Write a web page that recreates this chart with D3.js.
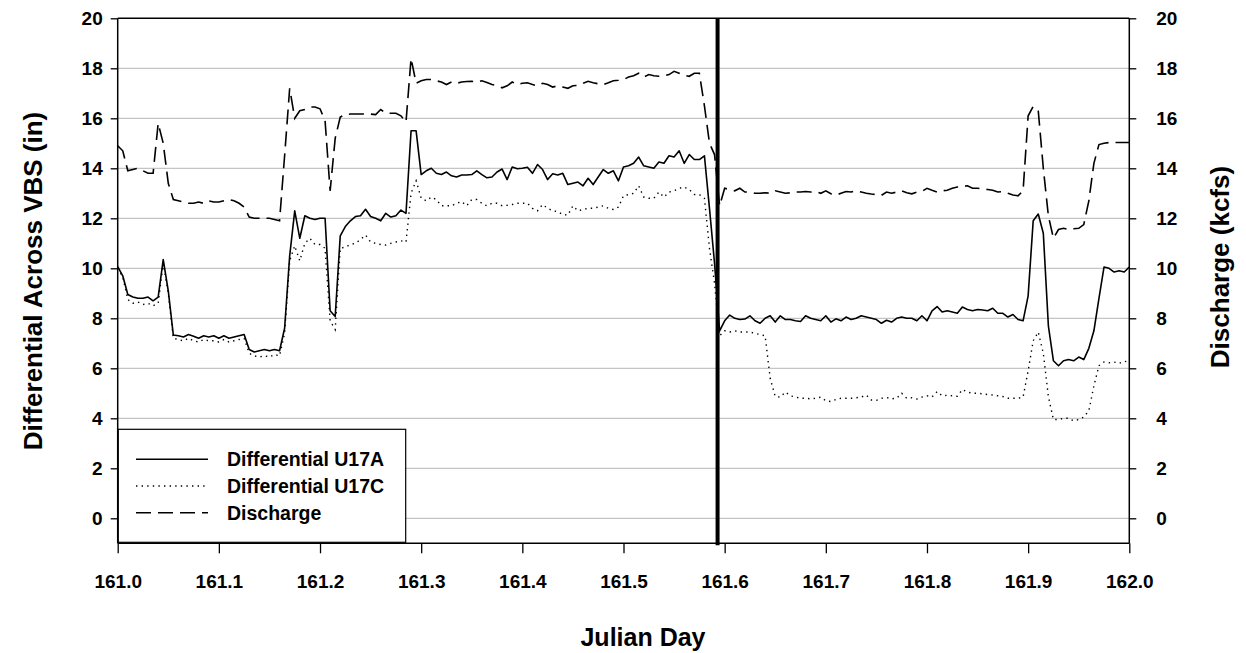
<!DOCTYPE html>
<html>
<head>
<meta charset="utf-8">
<script src="https://cdn.jsdelivr.net/npm/d3@7/dist/d3.min.js"></script>
<style>
  html, body { margin: 0; padding: 0; background: #fff; }
  svg { display: block; }
  text { font-family: "Liberation Sans", Arial, sans-serif; font-weight: bold; fill: #000; }
</style>
</head>
<body>
<svg id="chart" width="1246" height="653"></svg>
<script>
// ---------- DATA ----------
// sampling grid: Julian day 161.000 .. 162.000, one reading every 0.005 day
const dayStart = 161.0;
const dayStep = 0.005;

const xTickLabels = ["161.0","161.1","161.2","161.3","161.4","161.5","161.6","161.7","161.8","161.9","162.0"];
const yTickLabels = ["0","2","4","6","8","10","12","14","16","18","20"];
const seriesNames = ["Differential U17A", "Differential U17C", "Discharge"];
const markerDay = 161.593;

const differentialU17A = [
  10.07, 9.7, 8.95, 8.85, 8.8, 8.8, 8.85, 8.7, 8.85, 10.35,
  9.1, 7.33, 7.3, 7.25, 7.35, 7.28, 7.2, 7.3, 7.25, 7.3,
  7.2, 7.3, 7.2, 7.25, 7.3, 7.35, 6.75, 6.65, 6.7, 6.75,
  6.7, 6.75, 6.7, 7.6, 10.5, 12.3, 11.2, 12.1, 12.0, 11.95,
  12.0, 12.0, 8.3, 8.07, 11.3, 11.67, 11.9, 12.07, 12.1, 12.36,
  12.07, 12.0, 11.9, 12.2, 12.05, 12.1, 12.33, 12.2, 15.5, 15.5,
  13.75, 13.9, 14.0, 13.8, 13.75, 13.85, 13.7, 13.65, 13.73, 13.73,
  13.75, 13.9, 13.75, 13.62, 13.65, 13.85, 13.97, 13.55, 14.05, 13.98,
  14.0, 14.04, 13.8, 14.15, 13.95, 13.55, 13.78, 13.73, 13.8, 13.35,
  13.4, 13.45, 13.3, 13.6, 13.35, 13.65, 13.95, 13.8, 13.9, 13.5,
  14.05, 14.1, 14.2, 14.45, 14.1, 14.05, 14.0, 14.25, 14.2, 14.5,
  14.45, 14.7, 14.2, 14.55, 14.35, 14.35, 14.5, 12.4, 10.2, 7.5,
  7.9, 8.13, 8.0, 7.95, 7.97, 8.1, 7.9, 7.8, 8.0, 8.1,
  7.85, 8.1, 7.95, 7.95, 7.9, 7.87, 8.1, 8.0, 7.95, 7.9,
  8.1, 7.85, 7.98, 7.9, 8.05, 7.95, 8.0, 8.1, 8.05, 8.0,
  7.95, 7.8, 7.92, 7.85, 8.0, 8.05, 8.0, 8.0, 7.9, 8.1,
  7.9, 8.3, 8.47, 8.25, 8.3, 8.25, 8.2, 8.45, 8.35, 8.3,
  8.35, 8.33, 8.3, 8.4, 8.2, 8.2, 8.05, 8.15, 7.95, 7.9,
  8.9, 11.9, 12.17, 11.4, 7.7, 6.3, 6.1, 6.3, 6.35, 6.3,
  6.45, 6.35, 6.8, 7.5, 8.8, 10.05, 10.0, 9.85, 9.9, 9.85,
  10.05
];

const differentialU17C = [
  10.0, 9.65, 8.75, 8.6, 8.65, 8.55, 8.6, 8.5, 8.6, 10.2,
  9.0, 7.2, 7.15, 7.1, 7.2, 7.1, 7.05, 7.15, 7.1, 7.1,
  7.05, 7.15, 7.05, 7.1, 7.15, 7.2, 6.6, 6.5, 6.45, 6.5,
  6.45, 6.55, 6.5, 7.4, 10.3, 10.9, 10.3, 11.0, 11.2, 10.95,
  10.95, 10.8, 7.9, 7.55, 10.8, 10.85, 10.95, 11.0, 11.15, 11.33,
  11.05, 11.0, 10.95, 10.93, 11.0, 11.05, 11.1, 11.05, 13.0, 13.5,
  12.8, 12.7, 12.85, 12.75, 12.5, 12.5, 12.5, 12.6, 12.67, 12.5,
  12.75, 12.75, 12.6, 12.5, 12.6, 12.6, 12.5, 12.52, 12.55, 12.6,
  12.6, 12.6, 12.4, 12.3, 12.55, 12.4, 12.3, 12.27, 12.15, 12.13,
  12.5, 12.3, 12.35, 12.4, 12.4, 12.45, 12.5, 12.4, 12.35, 12.45,
  12.9, 12.95, 13.0, 13.3, 12.85, 12.8, 12.8, 13.05, 12.85, 13.05,
  13.1, 13.2, 13.25, 13.15, 12.95, 12.95, 12.8, 10.8, 9.4, 7.3,
  7.5, 7.45, 7.5, 7.45, 7.45, 7.45, 7.4, 7.35, 7.3, 5.6,
  4.87, 4.85, 5.05, 4.9, 4.85, 4.8, 4.8, 4.78, 4.8, 4.85,
  4.7, 4.67, 4.75, 4.8, 4.8, 4.8, 4.82, 4.85, 4.93, 4.73,
  4.72, 4.8, 4.83, 4.78, 4.8, 5.0, 4.8, 4.82, 4.77, 4.85,
  4.9, 4.85, 5.07, 4.9, 4.92, 4.9, 4.88, 5.15, 5.05, 5.0,
  5.0, 4.98, 4.95, 4.93, 4.9, 4.87, 4.8, 4.8, 4.8, 4.85,
  5.9, 7.1, 7.45, 6.6, 4.87, 3.95, 3.95, 4.0, 4.0, 3.9,
  3.95, 4.05, 4.3, 5.3, 6.1, 6.25, 6.22, 6.25, 6.2, 6.28,
  6.25
];

const discharge = [
  14.9, 14.7, 13.9, 13.95, 14.0, 13.9, 13.8, 13.8, 15.8, 15.0,
  13.4, 12.75, 12.7, 12.65, 12.6, 12.6, 12.65, 12.6, 12.7, 12.65,
  12.65, 12.7, 12.75, 12.7, 12.6, 12.45, 12.05, 12.0, 12.0, 12.0,
  12.0, 11.95, 11.9, 14.5, 17.2, 16.0, 16.3, 16.35, 16.45, 16.45,
  16.38, 15.9, 13.1, 15.2, 16.05, 16.15, 16.17, 16.17, 16.17, 16.17,
  16.17, 16.15, 16.35, 16.2, 16.2, 16.2, 16.1, 15.85, 18.4, 17.4,
  17.5, 17.55, 17.55, 17.5, 17.45, 17.35, 17.45, 17.4, 17.45, 17.47,
  17.48, 17.45, 17.5, 17.43, 17.35, 17.3, 17.22, 17.3, 17.45, 17.35,
  17.4, 17.42, 17.35, 17.3, 17.4, 17.35, 17.25, 17.3, 17.25, 17.2,
  17.3, 17.32, 17.4, 17.48, 17.42, 17.38, 17.35, 17.42, 17.5, 17.52,
  17.55, 17.65, 17.7, 17.8, 17.65, 17.75, 17.7, 17.68, 17.7, 17.75,
  17.88, 17.8, 17.72, 17.68, 17.8, 17.8, 16.5, 15.0, 14.55, 12.5,
  13.2, 13.15, 13.1, 13.2, 13.05, 13.05, 13.0, 13.0, 13.02, 13.0,
  13.1, 13.05, 13.0, 13.02, 13.05, 13.05, 13.07, 13.05, 13.07, 13.0,
  13.1, 12.98, 12.93, 13.0, 13.07, 13.05, 13.1, 13.05, 13.0, 12.97,
  12.95, 12.92, 13.05, 13.0, 13.05, 13.1, 13.02, 12.98, 13.05, 13.08,
  13.2, 13.12, 13.05, 13.1, 13.12, 13.2, 13.25, 13.27, 13.3, 13.2,
  13.2, 13.18, 13.15, 13.12, 13.05, 13.07, 13.0, 12.93, 12.9, 13.1,
  16.1, 16.47, 16.3, 14.0, 12.1, 11.2, 11.55, 11.6, 11.55, 11.58,
  11.6, 11.75, 12.7, 14.2, 14.95, 15.0, 15.03, 15.03, 15.03, 15.03,
  15.03
];

// ---------- LAYOUT ----------
const W = 1246, H = 653;
const m = { left: 117.7, right: W - 1129.3, top: 18.3, bottom: H - 543.3 };

const svg = d3.select("#chart");

const x = d3.scaleLinear().domain([161.0, 162.0]).range([m.left, W - m.right]);
const y = d3.scaleLinear().domain([-1, 20]).range([H - m.bottom, m.top]);   // inches
const y2 = d3.scaleLinear().domain([-1, 20]).range([H - m.bottom, m.top]);  // kcfs

const days = differentialU17A.map((_, i) => dayStart + i * dayStep);
const yTicks = yTickLabels.map(Number);
const xTicks = xTickLabels.map(Number);

// gridlines
svg.append("g")
  .selectAll("line")
  .data(yTicks.filter(v => v < 20))
  .join("line")
  .attr("x1", x(161.0)).attr("x2", x(162.0))
  .attr("y1", d => y(d)).attr("y2", d => y(d))
  .attr("stroke", "#c4c4c4").attr("stroke-width", 1.2);

// lines
const lineA = d3.line().x((d, i) => x(days[i])).y(d => y(d));
const lineD = d3.line().x((d, i) => x(days[i])).y(d => y2(d));

svg.append("path").datum(differentialU17C).attr("d", lineA)
  .attr("fill", "none").attr("stroke", "#000").attr("stroke-width", 1.4)
  .attr("stroke-dasharray", "1.4,4.2");
svg.append("path").datum(discharge).attr("d", lineD)
  .attr("fill", "none").attr("stroke", "#000").attr("stroke-width", 1.6)
  .attr("stroke-dasharray", "15,7");
svg.append("path").datum(differentialU17A).attr("d", lineA)
  .attr("fill", "none").attr("stroke", "#000").attr("stroke-width", 1.6)
  .attr("stroke-linejoin", "round");

// marker line
svg.append("line")
  .attr("x1", x(markerDay)).attr("x2", x(markerDay))
  .attr("y1", y(20)).attr("y2", y(-1) + 2)
  .attr("stroke", "#000").attr("stroke-width", 4);

// axes
const fontTick = "19px";
const axL = svg.append("g").attr("transform", `translate(${m.left},0)`)
  .call(d3.axisLeft(y).tickValues(yTicks).tickFormat((d, i) => yTickLabels[i]).tickSize(7).tickPadding(8));
const axR = svg.append("g").attr("transform", `translate(${W - m.right},0)`)
  .call(d3.axisRight(y2).tickValues(yTicks).tickFormat((d, i) => yTickLabels[i]).tickSize(7).tickPadding(20));
const axB = svg.append("g").attr("transform", `translate(0,${H - m.bottom})`)
  .call(d3.axisBottom(x).tickValues(xTicks).tickFormat((d, i) => xTickLabels[i]).tickSize(10).tickPadding(21));

[axL, axR, axB].forEach(g => {
  g.select(".domain").attr("stroke", "#000").attr("stroke-width", 1.5);
  g.selectAll(".tick line").attr("stroke", "#000").attr("stroke-width", 1.3);
  g.selectAll(".tick text").style("font-size", fontTick).style("font-weight", "bold")
    .style("font-family", '"Liberation Sans", Arial, sans-serif').attr("fill", "#000");
});
axL.select(".domain").attr("d", `M0,${y(-1)}V${y(20)}`);
axR.select(".domain").attr("d", `M0,${y(-1)}V${y(20)}`);
axB.select(".domain").attr("d", `M${x(161)},0H${x(162)}`);

// top frame
svg.append("line").attr("x1", x(161)).attr("x2", x(162)).attr("y1", y(20)).attr("y2", y(20))
  .attr("stroke", "#000").attr("stroke-width", 1.5);

// axis titles
svg.append("text").attr("transform", `translate(42,281) rotate(-90)`)
  .attr("text-anchor", "middle").style("font-size", "26px").text("Differential Across VBS (in)");
svg.append("text").attr("transform", `translate(1229,267) rotate(-90)`)
  .attr("text-anchor", "middle").style("font-size", "26px").text("Discharge (kcfs)");
svg.append("text").attr("x", 643).attr("y", 646)
  .attr("text-anchor", "middle").style("font-size", "25px").text("Julian Day");

// legend
const lg = svg.append("g");
lg.append("rect").attr("x", 118.3).attr("y", 429.3).attr("width", 287.4).attr("height", 113)
  .attr("fill", "#fff").attr("stroke", "#000").attr("stroke-width", 1.2);
const legendStyles = [
  { dash: null, w: 1.6 },
  { dash: "1.4,4.2", w: 1.4 },
  { dash: "15,7", w: 1.6 }
];
seriesNames.forEach((name, i) => {
  const ly = 459.3 + i * 26.7;
  const l = lg.append("line").attr("x1", 136).attr("x2", 208).attr("y1", ly).attr("y2", ly)
    .attr("stroke", "#000").attr("stroke-width", legendStyles[i].w);
  if (legendStyles[i].dash) l.attr("stroke-dasharray", legendStyles[i].dash);
  lg.append("text").attr("x", 227).attr("y", ly + 7).style("font-size", "19.5px").text(name);
});
</script>
</body>
</html>
